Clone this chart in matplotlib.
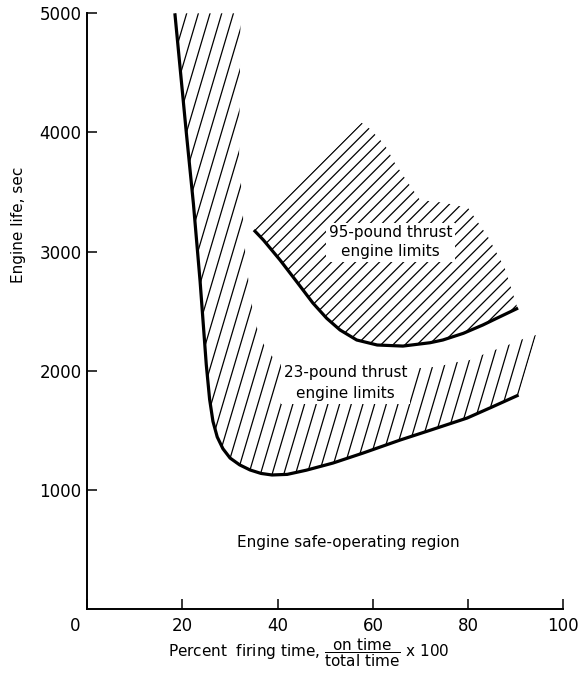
import numpy as np
import matplotlib
matplotlib.use("Agg")
import matplotlib.pyplot as plt
import matplotlib.transforms as mtransforms
from matplotlib.patches import Polygon
from matplotlib.collections import LineCollection

plt.rcParams['font.family'] = ['DejaVu Sans']
plt.rcParams['mathtext.fontset'] = 'dejavusans'

# 23-pound thrust engine limit curve
curve23_x = [18.4, 20.8, 22.3, 23.7, 25.0, 25.7, 26.4, 27.3, 28.5, 30.0, 32.0, 34.2, 36.5,
             38.8, 42.0, 46.0, 51.6, 58.0, 65.7, 72.0, 79.8, 85.0, 90.6]
curve23_y = [5000, 4000, 3400, 2750, 2050, 1760, 1575, 1444, 1345, 1267, 1210, 1167, 1138,
             1125, 1130, 1165, 1225, 1310, 1418, 1500, 1603, 1695, 1796]
# outer edge of the 23-pound hatched band (right end back to the top)
outer23_x = [94.3, 90.9, 88.4, 85.6, 82.9, 80.4, 77.7, 75.1, 72.6, 70.5, 60.0, 50.0, 42.0,
             40.1, 38.2, 36.5, 35.0, 34.2, 33.3, 31.9, 32.2]
outer23_y = [2300, 2258, 2216, 2174, 2132, 2090, 2073, 2048, 2031, 2023, 2020, 2020, 2030,
             2065, 2149, 2258, 2442, 2661, 2920, 3827, 5000]

# 95-pound thrust engine limit curve
curve95_x = [35.0, 37.0, 40.5, 44.0, 47.4, 50.3, 53.1, 56.6, 60.9, 66.3, 72.0, 74.7, 79.0,
             83.1, 86.0, 90.5]
curve95_y = [3181, 3097, 2929, 2747, 2568, 2440, 2342, 2258, 2216, 2207, 2235, 2258, 2314,
             2384, 2440, 2526]
outer95_x = [90.3, 87.7, 84.2, 80.0, 75.0, 69.9, 67.0, 64.6, 62.5, 59.4, 57.6]
outer95_y = [2535, 2862, 3122, 3366, 3410, 3433, 3600, 3744, 3895, 4029, 4082]

x_ticks = [0, 20, 40, 60, 80, 100]
y_ticks = [1000, 2000, 3000, 4000, 5000]


def hatch(ax, xs, ys, angle, gap, anchor, shift, lw=0.9):
    # parallel lines drawn in pixel space, clipped to the region
    poly = Polygon(np.column_stack([xs, ys]), closed=True,
                   facecolor='none', edgecolor='none')
    ax.add_patch(poly)
    tr = ax.transData
    pts = tr.transform(np.column_stack([xs, ys]))
    a = np.radians(angle)
    d = np.array([np.cos(a), np.sin(a)])
    n = np.array([-np.sin(a), np.cos(a)])
    p0 = tr.transform(anchor) + n * shift
    pn = (pts - p0) @ n
    pd = (pts - p0) @ d
    segs = []
    for k in np.arange(np.floor(pn.min() / gap), np.ceil(pn.max() / gap) + 1):
        base = p0 + n * k * gap
        ends = np.array([base + d * (pd.min() - 10), base + d * (pd.max() + 10)])
        segs.append(tr.inverted().transform(ends))
    lc = LineCollection(segs, colors='black', linewidths=lw)
    ax.add_collection(lc, autolim=False)
    lc.set_clip_path(poly)


fig = plt.figure(figsize=(5.85, 6.76), dpi=100)
ax = fig.add_axes([0.1492, 0.0991, 0.8137, 0.8812])
ax.set_xlim(0, 100)
ax.set_ylim(0, 5000)

hatch(ax, curve23_x + outer23_x, curve23_y + outer23_y, 73.5, 11.2,
      (curve23_x[-1], curve23_y[-1]), 1.0)
hatch(ax, curve95_x + outer95_x, curve95_y + outer95_y, 45, 8.5,
      (curve95_x[0], curve95_y[0]), -1.0)

ax.plot(curve23_x, curve23_y, color='black', lw=2.3, solid_capstyle='butt',
        solid_joinstyle='round', zorder=3)
ax.plot(curve95_x, curve95_y, color='black', lw=2.3, solid_capstyle='butt',
        solid_joinstyle='round', zorder=3)

box = dict(facecolor='white', edgecolor='none', pad=2)
ax.text(63.7, 3080, "95-pound thrust\nengine limits", ha='center', va='center',
        fontsize=11, linespacing=1.3, bbox=box, zorder=4)
ax.text(54.3, 1893, "23-pound thrust\nengine limits", ha='center', va='center',
        fontsize=11, linespacing=1.5, bbox=box, zorder=4)
ax.text(54.8, 562, "Engine safe-operating region", ha='center', va='center', fontsize=11)

for s in ['top', 'right']:
    ax.spines[s].set_visible(False)
for s in ['left', 'bottom']:
    ax.spines[s].set_linewidth(1.4)

ax.set_xticks(x_ticks)
ax.set_yticks(y_ticks)
ax.tick_params(direction='in', length=7.5, width=1.1, labelsize=12, pad=4)
ax.tick_params(axis='x', pad=6)
lbl = ax.xaxis.get_major_ticks()[0].label1
lbl.set_transform(lbl.get_transform() +
                  mtransforms.ScaledTranslation(-0.12, 0, fig.dpi_scale_trans))

ax.set_ylabel("Engine life, sec", fontsize=11)
ax.yaxis.set_label_coords(-0.128, 0.645)
ax.text(0.465, -0.074,
        r"Percent  firing time, $\dfrac{\mathregular{on\ time}}{\mathregular{total\ time}}$ x 100",
        transform=ax.transAxes, ha='center', va='center', fontsize=11)

fig.savefig("out.png", dpi=100)
